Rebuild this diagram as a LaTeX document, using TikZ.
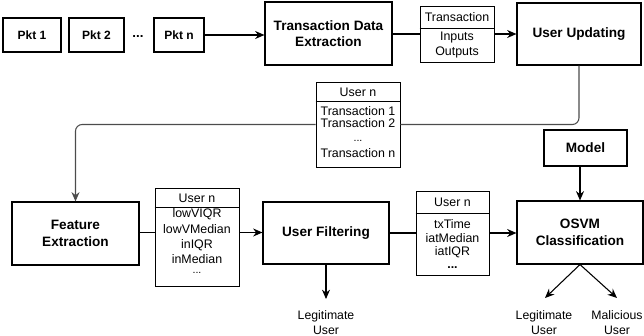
\documentclass[tikz,border=0pt]{standalone}
\usepackage{fontspec}
\setmainfont{Liberation Sans}
\usetikzlibrary{arrows.meta,calc}
\begin{document}
\begin{tikzpicture}[x=0.75pt,y=-0.75pt,
  wh/.style 2 args={minimum width=#1*0.75pt,minimum height=#2*0.75pt},
  box/.style={draw,line width=0.8pt,inner sep=0pt,align=center,
    font=\fontsize{10.2}{12.5}\selectfont\bfseries},
  pkt/.style={box,font=\fontsize{9}{11}\selectfont\bfseries},
  tbl/.style={draw,line width=0.7pt,inner sep=0pt},
  cell/.style={inner sep=0pt,font=\fontsize{9.3}{11}\selectfont},
  lbl/.style={inner sep=0pt,align=center,font=\fontsize{9.2}{11.25}\selectfont},
  link/.style={line width=0.8pt},
  flow/.style={link,-{Stealth[length=7pt,width=6pt]}},
  route/.style={line width=0.8pt,draw=black!70,rounded corners=5pt},
]
\useasboundingbox (0,0) rectangle (644,336);

% packet stream
\node[pkt,wh={58}{34}] (p1) at (32,35) {Pkt 1};
\node[pkt,wh={55}{34}] (p2) at (96.5,35) {Pkt 2};
\node[inner sep=0pt,font=\fontsize{10}{12}\selectfont\bfseries] (pdots) at (138,37) {...};
\node[pkt,wh={50}{34}] (pn) at (179,35) {Pkt n};

% first row of processing blocks
\node[box,wh={127}{63}] (tde) at (328.5,33.5) {Transaction Data\\Extraction};
\node[box,wh={124}{62}] (uu) at (579,34) {User Updating};

% transaction record
\node[tbl,wh={74}{56}] (t1) at (457,34) {};
\draw[tbl] ($(t1.north west)+(0,23)$) -- ($(t1.north east)+(0,23)$);
\node[cell] (t1h) at (457,17.5) {Transaction};
\node[cell] (t1a) at (457,38) {Inputs};
\node[cell] (t1b) at (457,52) {Outputs};

% per-user transaction list
\node[tbl,wh={84}{85}] (t2) at (358,124.5) {};
\draw[tbl] ($(t2.north west)+(0,20)$) -- ($(t2.north east)+(0,20)$);
\node[cell] (t2h) at (358,92.5) {User n};
\node[cell] (t2-1) at (358,111) {Transaction 1};
\node[cell] (t2-2) at (358,123) {Transaction 2};
\node[cell,font=\fontsize{8}{9}\selectfont] (t2-3) at (358,141) {...};
\node[cell] (t2-4) at (358,153) {Transaction n};

% second row of processing blocks
\node[box,wh={127}{63}] (fe) at (75.5,233.5) {Feature\\Extraction};
\node[box,wh={126}{62}] (uf) at (326,233) {User Filtering};
\node[box,wh={126}{63}] (osvm) at (580,232.5) {OSVM\\Classification};
\node[box,wh={83}{36}] (model) at (585.5,148) {Model};

% extracted features
\node[tbl,wh={84}{98}] (t3) at (197,237) {};
\draw[tbl] ($(t3.north west)+(0,20)$) -- ($(t3.north east)+(0,20)$);
\node[cell] (t3h) at (197,198) {User n};
\node[cell] (t3-1) at (197,214) {lowVIQR};
\node[cell] (t3-2) at (197,229.5) {lowVMedian};
\node[cell] (t3-3) at (197,245) {inIQR};
\node[cell] (t3-4) at (197,259.5) {inMedian};
\node[cell,font=\fontsize{8}{9}\selectfont] (t3-5) at (197,273) {...};

% classifier features
\node[tbl,wh={73}{84}] (t4) at (452.5,233) {};
\draw[tbl] ($(t4.north west)+(0,23)$) -- ($(t4.north east)+(0,23)$);
\node[cell] (t4h) at (452.5,202.5) {User n};
\node[cell] (t4-1) at (452.5,224) {txTime};
\node[cell] (t4-2) at (452.5,238) {iatMedian};
\node[cell] (t4-3) at (452.5,252) {iatIQR};
\node[cell,font=\fontsize{9.3}{11}\selectfont\bfseries] (t4-4) at (452.5,268) {...};

% outcomes
\coordinate (ufout) at (326,299);
\coordinate (legout) at (545,298);
\coordinate (malout) at (617,298);
\node[lbl] (leg1) at (326,322.5) {Legitimate\\User};
\node[lbl] (leg2) at (544,322.5) {Legitimate\\User};
\node[lbl] (mal) at (617,322.5) {Malicious\\User};

% connectors
\draw[flow] (pn.east) -- (tde.west |- pn.east);
\draw[link] (tde.east |- t1.west) -- (t1.west);
\draw[flow] (t1.east) -- (uu.west |- t1.east);
\draw[route] (uu.south) |- (t2.east);
\draw[route,-{Stealth[length=7pt,width=6pt]}] (t2.west) -| (fe.north);
\draw[link] ($(fe.east |- t3.west)+(0,-4.5)$) -- ($(t3.west)+(0,-4.5)$);
\draw[flow] ($(t3.east)+(0,-4.5)$) -- ($(uf.west |- t3.east)+(0,-4.5)$);
\draw[link] (uf.east) -- (uf.east -| t4.west);
\draw[flow] (t4.east) -- (osvm.west |- t4.east);
\draw[flow] (model.south -| osvm.north) -- (osvm.north);
\draw[flow] (uf.south) -- (ufout);
\draw[flow] (osvm.south) -- (legout);
\draw[flow] (osvm.south) -- (malout);
\end{tikzpicture}
\end{document}
